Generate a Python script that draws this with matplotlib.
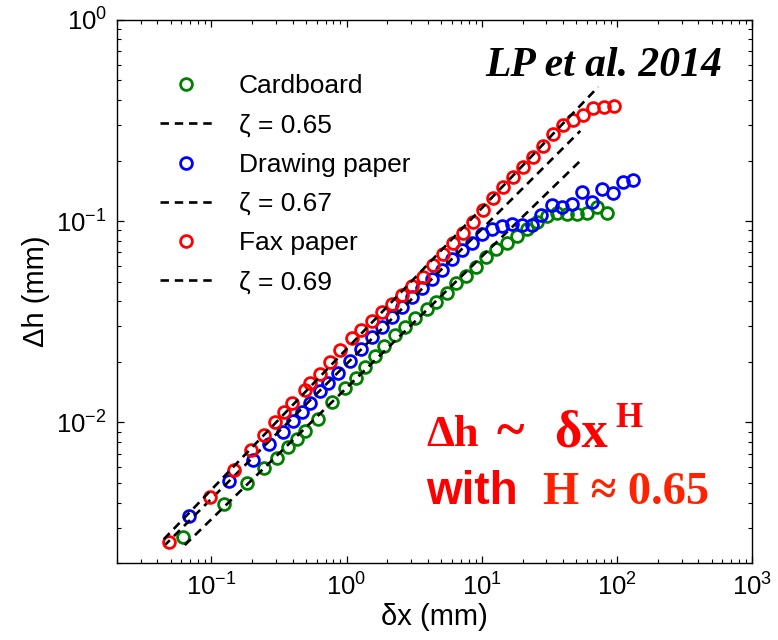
import matplotlib
matplotlib.use("Agg")
import matplotlib.pyplot as plt
from matplotlib.ticker import LogLocator, NullFormatter

plt.rcParams['font.family'] = ['Liberation Sans', 'DejaVu Sans']
plt.rcParams['mathtext.fontset'] = 'custom'
plt.rcParams['mathtext.rm'] = 'Liberation Sans'

# Cardboard
card_x = [0.0616, 0.1239, 0.1832, 0.2449, 0.3055, 0.369, 0.4295, 0.4932, 0.6152, 0.7798,
          0.975, 1.175, 1.37, 1.625, 1.893, 2.284, 2.71, 3.213, 3.943, 4.592,
          5.546, 6.457, 7.656, 9.078, 10.77, 12.77, 15.41, 18.28, 21.68, 25.7,
          30.48, 36.14, 42.85, 50.82, 60.26, 71.45, 84.72]
card_y = [0.00269, 0.00393, 0.0050, 0.00593, 0.00665, 0.00755, 0.00827, 0.00906, 0.0104, 0.01262,
          0.01483, 0.01663, 0.01885, 0.02138, 0.02397, 0.02718, 0.02979, 0.03304, 0.03664, 0.03965,
          0.04397, 0.04932, 0.05346, 0.05916, 0.06637, 0.07278, 0.07796, 0.0844, 0.09141, 0.0991,
          0.1062, 0.1099, 0.1086, 0.1086, 0.1093, 0.1177, 0.1099]

# Drawing paper
draw_x = [0.0682, 0.1349, 0.2033, 0.2667, 0.3388, 0.4018, 0.4677, 0.537, 0.6368, 0.7295,
          0.865, 1.061, 1.28, 1.544, 1.831, 2.171, 2.574, 3.05, 3.62, 4.29,
          5.09, 6.04, 7.16, 8.49, 10.07, 11.94, 14.16, 16.79, 19.91, 23.6,
          27.5, 33.2, 39.4, 46.7, 55.3, 65.6, 77.8, 93.8, 111.2, 131.9]
draw_y = [0.00343, 0.00512, 0.0065, 0.00781, 0.00896, 0.01016, 0.01127, 0.01248, 0.01432, 0.0157,
          0.01761, 0.0202, 0.02317, 0.02656, 0.02979, 0.03342, 0.0375, 0.04198, 0.04656, 0.05164,
          0.05718, 0.06487, 0.07194, 0.07796, 0.08635, 0.09141, 0.09462, 0.09683, 0.09572, 0.09572,
          0.1074, 0.1205, 0.1177, 0.1219, 0.1397, 0.1246, 0.1445, 0.1381, 0.1566, 0.1603]

# Fax paper
fax_x = [0.049, 0.098, 0.147, 0.196, 0.245, 0.294, 0.343, 0.392, 0.49, 0.54,
         0.64, 0.75, 0.89, 1.09, 1.29, 1.53, 1.82, 2.16, 2.57, 3.05,
         3.68, 4.37, 5.18, 6.14, 7.28, 8.63, 10.2, 12.1, 14.4, 17.1,
         20.2, 24.0, 28.4, 33.7, 40.0, 47.4, 56.2, 66.7, 80.5, 95.5]
fax_y = [0.00255, 0.00426, 0.0058, 0.00729, 0.00866, 0.01004, 0.01127, 0.01248, 0.01449, 0.0157,
         0.01741, 0.01997, 0.0229, 0.02628, 0.02879, 0.0319, 0.03538, 0.03875, 0.04297, 0.04765,
         0.05284, 0.06058, 0.06871, 0.07796, 0.08736, 0.0991, 0.1137, 0.1303, 0.1479, 0.1659,
         0.1858, 0.2084, 0.2365, 0.2712, 0.3007, 0.3185, 0.3373, 0.3656, 0.3697, 0.3738]

# power-law fits (end points)
fit65_x = [0.0637, 54.3]
fit65_y = [0.00246, 0.2014]
fit67_x = [0.0446, 53.5]
fit67_y = [0.00243, 0.2807]
fit69_x = [0.0446, 72.6]
fit69_y = [0.00263, 0.4646]

fig = plt.figure(figsize=(7.78, 6.4), dpi=100)
ax = fig.add_axes([0.150, 0.120, 0.817, 0.849])

mk = dict(marker='o', linestyle='none', markersize=8.5, markerfacecolor='none', markeredgewidth=2.0)
dash = dict(color='black', lw=1.9, linestyle=(0, (3.2, 2.2)))

ax.plot(card_x, card_y, markeredgecolor='#008000', label='Cardboard', **mk)
ax.plot(fit65_x, fit65_y, label='\u03b6 = 0.65', **dash)
ax.plot(draw_x, draw_y, markeredgecolor='#0000ff', label='Drawing paper', **mk)
ax.plot(fit67_x, fit67_y, label='\u03b6 = 0.67', **dash)
ax.plot(fax_x, fax_y, markeredgecolor='#ff0000', label='Fax paper', **mk)
ax.plot(fit69_x, fit69_y, label='\u03b6 = 0.69', **dash)

ax.set_xscale('log')
ax.set_yscale('log')
ax.set_xlim(0.02, 1000)
ax.set_ylim(0.002, 1)
ax.xaxis.set_major_locator(LogLocator(base=10, numticks=10))
ax.xaxis.set_minor_locator(LogLocator(base=10, subs=range(2, 10), numticks=20))
ax.yaxis.set_minor_locator(LogLocator(base=10, subs=range(2, 10), numticks=20))
ax.xaxis.set_minor_formatter(NullFormatter())
ax.yaxis.set_minor_formatter(NullFormatter())
ax.tick_params(which='both', direction='in', top=True, right=True, labelsize=18.5)
ax.tick_params(which='major', length=5, width=0.9, pad=7)
ax.tick_params(which='minor', length=3, width=0.8)
for s in ax.spines.values():
    s.set_linewidth(1.0)

ax.set_xlabel('\u03b4x (mm)', fontsize=21)
ax.set_ylabel('\u0394h (mm)', fontsize=21)
ax.xaxis.set_label_coords(0.5, -0.073)
ax.xaxis.label.set_va('top')
ax.yaxis.set_label_coords(-0.105, 0.5)

ax.legend(loc='upper left', bbox_to_anchor=(0.068, 0.900), frameon=False, fontsize=19,
          borderpad=0, borderaxespad=0, labelspacing=0.58, handlelength=2.0, handletextpad=1.0)

ax.text(0.953, 0.897, 'LP et al. 2014', transform=ax.transAxes, ha='right', va='baseline',
        family='Liberation Serif', fontweight='bold', fontstyle='italic', fontsize=30)

red_serif = dict(transform=ax.transAxes, ha='left', va='baseline',
                 family='Liberation Serif', fontweight='bold', color='#ff0000')
ax.text(0.487, 0.215, '\u0394h', fontsize=32, **red_serif)
ax.text(0.598, 0.215, '~', fontsize=38, **red_serif)
ax.text(0.688, 0.215, '\u03b4x', fontsize=38, **red_serif)
ax.text(0.784, 0.250, 'H', fontsize=25, **red_serif)
ax.text(0.487, 0.109, 'with', transform=ax.transAxes, ha='left', va='baseline',
        family='Liberation Sans', fontweight='bold', fontsize=33, color='#ff0000')
ax.text(0.670, 0.109, 'H \u2248 0.65', transform=ax.transAxes, ha='left', va='baseline',
        family='Liberation Serif', fontweight='bold', fontsize=33.5, color='#ff2200')

fig.savefig('out.png', dpi=100)
